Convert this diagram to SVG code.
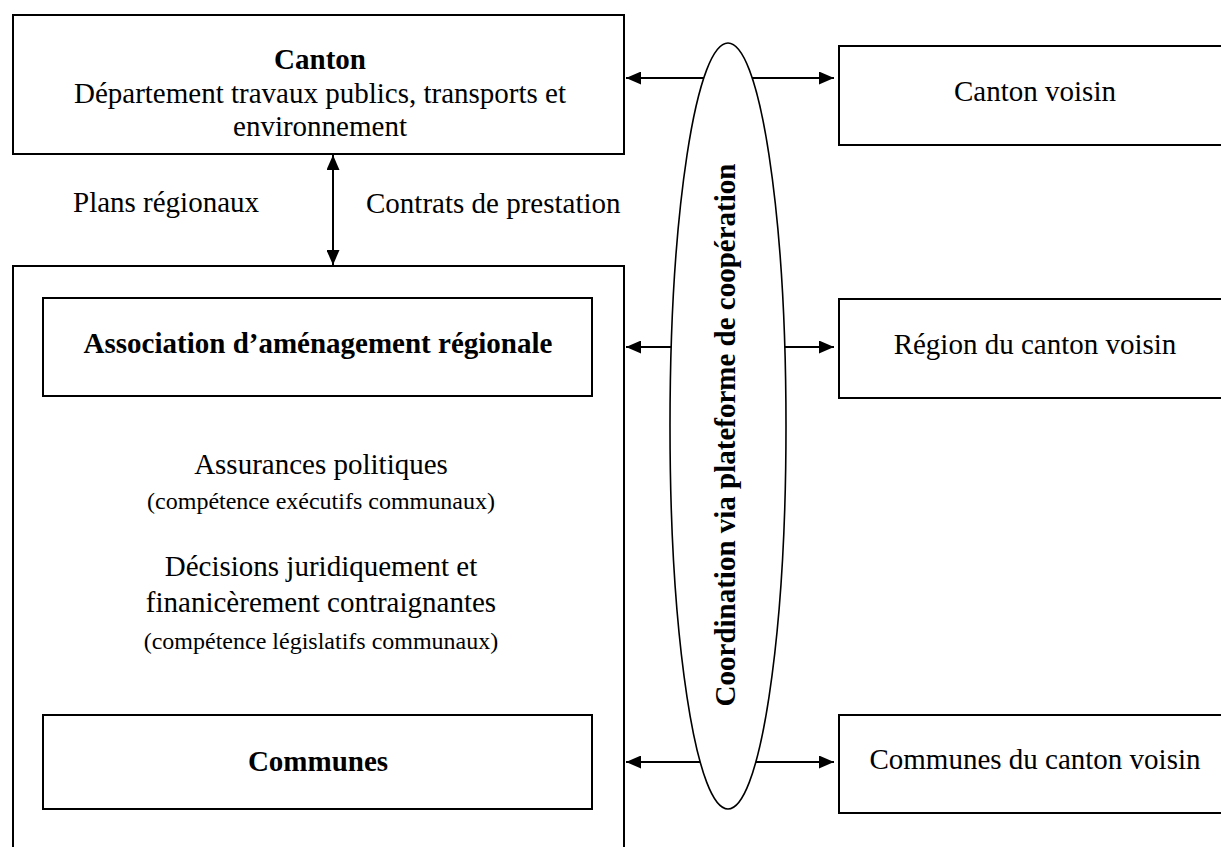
<svg xmlns="http://www.w3.org/2000/svg" width="1221" height="847" viewBox="0 0 1221 847">
  <style>
    .box { fill: #fff; stroke: #000; stroke-width: 2; }
    .t { font-family: "Liberation Serif", "Times New Roman", serif; font-size: 29px; fill: #000; text-anchor: middle; }
    .b { font-weight: bold; }
    .s { font-size: 24px; }
    .l { text-anchor: start; }
    .con { stroke: #000; stroke-width: 2; fill: none; }
  </style>
  <defs>
    <marker id="ah" viewBox="0 0 15 13" refX="15" refY="6.5" markerWidth="15" markerHeight="13" markerUnits="userSpaceOnUse" orient="auto-start-reverse">
      <path d="M0,0 L15,6.5 L0,13 z" fill="#000"/>
    </marker>
  </defs>

  <g id="connectors">
    <line class="con" x1="333" y1="155" x2="333" y2="265" marker-start="url(#ah)" marker-end="url(#ah)"/>
    <line class="con" x1="626" y1="78" x2="834" y2="78" marker-start="url(#ah)" marker-end="url(#ah)"/>
    <line class="con" x1="626" y1="347" x2="834" y2="347" marker-start="url(#ah)" marker-end="url(#ah)"/>
    <line class="con" x1="626" y1="762" x2="834" y2="762" marker-start="url(#ah)" marker-end="url(#ah)"/>
  </g>

  <g id="canton">
    <rect class="box" x="13" y="15" width="611" height="139"/>
    <text class="t b" x="320" y="69">Canton</text>
    <text class="t" x="320" y="103">Département travaux publics, transports et</text>
    <text class="t" x="320" y="136">environnement</text>
  </g>

  <g id="labels">
    <text class="t l" x="73" y="212">Plans régionaux</text>
    <text class="t l" x="366" y="213">Contrats de prestation</text>
  </g>

  <g id="region">
    <rect class="box" x="13" y="266" width="611" height="600"/>
    <text class="t" x="321" y="474">Assurances politiques</text>
    <text class="t s" x="321" y="509">(compétence exécutifs communaux)</text>
    <text class="t" x="321" y="576">Décisions juridiquement et</text>
    <text class="t" x="321" y="612">finanicèrement contraignantes</text>
    <text class="t s" x="321" y="649">(compétence législatifs communaux)</text>
  </g>

  <g id="association">
    <rect class="box" x="43" y="298" width="549" height="98"/>
    <text class="t b" x="318" y="353">Association d’aménagement régionale</text>
  </g>

  <g id="communes">
    <rect class="box" x="43" y="715" width="549" height="94"/>
    <text class="t b" x="318" y="771">Communes</text>
  </g>

  <g id="coordination">
    <ellipse cx="728" cy="426" rx="58" ry="383" fill="#fff" stroke="#000" stroke-width="1.6"/>
    <text class="t b" transform="translate(735,435) rotate(-90)" x="0" y="0">Coordination via plateforme de coopération</text>
  </g>

  <g id="canton-voisin">
    <rect class="box" x="839" y="46" width="400" height="99"/>
    <text class="t" x="1035" y="101">Canton voisin</text>
  </g>

  <g id="region-voisin">
    <rect class="box" x="839" y="299" width="400" height="99"/>
    <text class="t" x="1035" y="354">Région du canton voisin</text>
  </g>

  <g id="communes-voisin">
    <rect class="box" x="839" y="715" width="400" height="98"/>
    <text class="t" x="1035" y="769">Communes du canton voisin</text>
  </g>
</svg>
